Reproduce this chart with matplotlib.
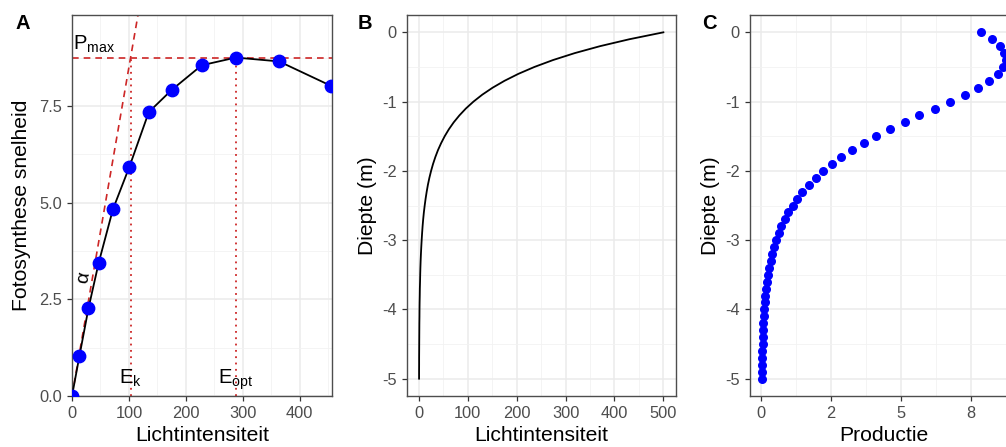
import matplotlib
matplotlib.use("Agg")
import matplotlib.pyplot as plt
import numpy as np

plt.rcParams['font.family'] = ['Liberation Sans', 'DejaVu Sans']

# panel A: light response (data points + fitted line through them)
licht_a = [0, 13, 29, 47, 72, 101, 135, 175, 228, 288, 364, 455]
foto_a = [0.0, 1.03, 2.27, 3.45, 4.83, 5.93, 7.34, 7.91, 8.55, 8.75, 8.65, 8.02]
p_max = 8.75
e_k = 103
e_opt = 288

# panel B: light vs depth
diepte = [0.0, -0.1, -0.2, -0.3, -0.4, -0.5, -0.6, -0.7, -0.8, -0.9,
          -1.0, -1.1, -1.2, -1.3, -1.4, -1.5, -1.6, -1.7, -1.8, -1.9,
          -2.0, -2.1, -2.2, -2.3, -2.4, -2.5, -2.6, -2.7, -2.8, -2.9,
          -3.0, -3.1, -3.2, -3.3, -3.4, -3.5, -3.6, -3.7, -3.8, -3.9,
          -4.0, -4.1, -4.2, -4.3, -4.4, -4.5, -4.6, -4.7, -4.8, -4.9, -5.0]
licht_b = [500, 430.4, 370.4, 318.8, 274.4, 236.2, 203.3, 175.0, 150.6, 129.6,
           111.6, 96.0, 82.7, 71.1, 61.2, 52.7, 45.4, 39.0, 33.6, 28.9,
           24.9, 21.4, 18.4, 15.9, 13.7, 11.8, 10.1, 8.7, 7.5, 6.5,
           5.6, 4.8, 4.1, 3.5, 3.0, 2.6, 2.3, 1.9, 1.7, 1.4,
           1.2, 1.1, 0.9, 0.8, 0.7, 0.6, 0.5, 0.4, 0.4, 0.3, 0.3]

# panel C: production vs depth
productie = [7.86, 8.26, 8.54, 8.69, 8.75, 8.66, 8.48, 8.15, 7.76, 7.27,
             6.76, 6.21, 5.66, 5.13, 4.61, 4.12, 3.67, 3.25, 2.87, 2.53,
             2.23, 1.95, 1.70, 1.48, 1.30, 1.13, 0.98, 0.85, 0.73, 0.63,
             0.54, 0.47, 0.40, 0.35, 0.30, 0.26, 0.22, 0.19, 0.16, 0.14,
             0.12, 0.10, 0.09, 0.08, 0.07, 0.06, 0.05, 0.04, 0.04, 0.03, 0.03]

W, H = 1006, 447
fig = plt.figure(figsize=(W / 100, H / 100), dpi=100)

TITLE = 15.2


def make_ax(left, right, top=15, bottom=396):
    ax = fig.add_axes([left / W, (H - bottom) / H, (right - left) / W, (bottom - top) / H])
    ax.set_facecolor('white')
    for s in ax.spines.values():
        s.set_color('#4d4d4d')
        s.set_linewidth(1.0)
    ax.tick_params(colors='#333333', labelcolor='#4d4d4d', labelsize=11.8, length=3.5, width=0.9, pad=3.5)
    ax.grid(which='major', color='#ebebeb', lw=1.1, zorder=0)
    ax.grid(which='minor', color='#f2f2f2', lw=0.6, zorder=0)
    ax.tick_params(which='minor', length=0)
    ax.set_axisbelow(True)
    return ax


red = '#cd2626'

# ---- A
axA = make_ax(72, 332)
axA.plot(licht_a, foto_a, color='black', lw=1.3, zorder=3)
axA.scatter(licht_a, foto_a, s=80, color='#0000ff', zorder=4, clip_on=True)
axA.axhline(p_max, color=red, ls=(0, (4, 3)), lw=1.2, zorder=2)
xs = np.array([0, 140])
axA.plot(xs, xs * p_max / e_k, color=red, ls=(0, (4, 3)), lw=1.2, zorder=2)
axA.plot([e_k, e_k], [0, p_max], color=red, ls=(0, (1, 2.5)), lw=1.3, zorder=2)
axA.plot([e_opt, e_opt], [0, p_max], color=red, ls=(0, (1, 2.5)), lw=1.3, zorder=2)
axA.set_xlim(0, 457)
axA.set_ylim(0, 9.85)
axA.set_xticks([0, 100, 200, 300, 400])
axA.set_xticks([50, 150, 250, 350, 450], minor=True)
axA.set_yticks([0, 2.5, 5, 7.5])
axA.set_yticklabels(['0.0', '2.5', '5.0', '7.5'])
axA.set_yticks([1.25, 3.75, 6.25, 8.75], minor=True)
axA.text(1, 8.95, r'$\mathregular{P_{max}}$', fontsize=14.5, ha='left', va='baseline')
axA.text(e_k, 0.33, r'$\mathregular{E_{k}}$', fontsize=14.5, ha='center', va='baseline')
axA.text(e_opt, 0.33, r'$\mathregular{E_{opt}}$', fontsize=14.5, ha='center', va='baseline')
axA.text(20, 3.05, 'α', fontsize=14, ha='center', va='center', rotation=80)
axA.set_xlabel('Lichtintensiteit', fontsize=TITLE, labelpad=4)
axA.set_ylabel('Fotosynthese snelheid', fontsize=TITLE, labelpad=6)
fig.text(15 / W, 1 - 29 / H, 'A', fontsize=14.5, fontweight='bold')

# ---- B
axB = make_ax(406.7, 675.6)
axB.plot(licht_b, diepte, color='black', lw=1.3, zorder=3)
axB.set_xlim(-25, 525)
axB.set_ylim(-5.25, 0.25)
axB.set_xticks([0, 100, 200, 300, 400, 500])
axB.set_xticks([50, 150, 250, 350, 450], minor=True)
axB.set_yticks([0, -1, -2, -3, -4, -5])
axB.set_yticklabels(['0', '-1', '-2', '-3', '-4', '-5'])
axB.set_yticks([-0.5, -1.5, -2.5, -3.5, -4.5], minor=True)
axB.set_xlabel('Lichtintensiteit', fontsize=TITLE, labelpad=4)
axB.set_ylabel('Diepte (m)', fontsize=TITLE, labelpad=4)
fig.text(358 / W, 1 - 29 / H, 'B', fontsize=14.5, fontweight='bold')

# ---- C (cut off at the right edge like the original)
axC = make_ax(749.7, 1018)
axC.scatter(productie, diepte, s=30, color='#0000ff', zorder=4)
axC.set_xlim(-0.40, 9.18)
axC.set_ylim(-5.25, 0.25)
axC.set_xticks([0, 2.5, 5, 7.5])
axC.set_xticklabels(['0', '2', '5', '8'])
axC.set_xticks([1.25, 3.75, 6.25, 8.75], minor=True)
axC.set_yticks([0, -1, -2, -3, -4, -5])
axC.set_yticklabels(['0', '-1', '-2', '-3', '-4', '-5'])
axC.set_yticks([-0.5, -1.5, -2.5, -3.5, -4.5], minor=True)
axC.set_xlabel('Productie', fontsize=TITLE, labelpad=4)
axC.set_ylabel('Diepte (m)', fontsize=TITLE, labelpad=4)
fig.text(702 / W, 1 - 29 / H, 'C', fontsize=14.5, fontweight='bold')

fig.savefig('out.png', dpi=100)
